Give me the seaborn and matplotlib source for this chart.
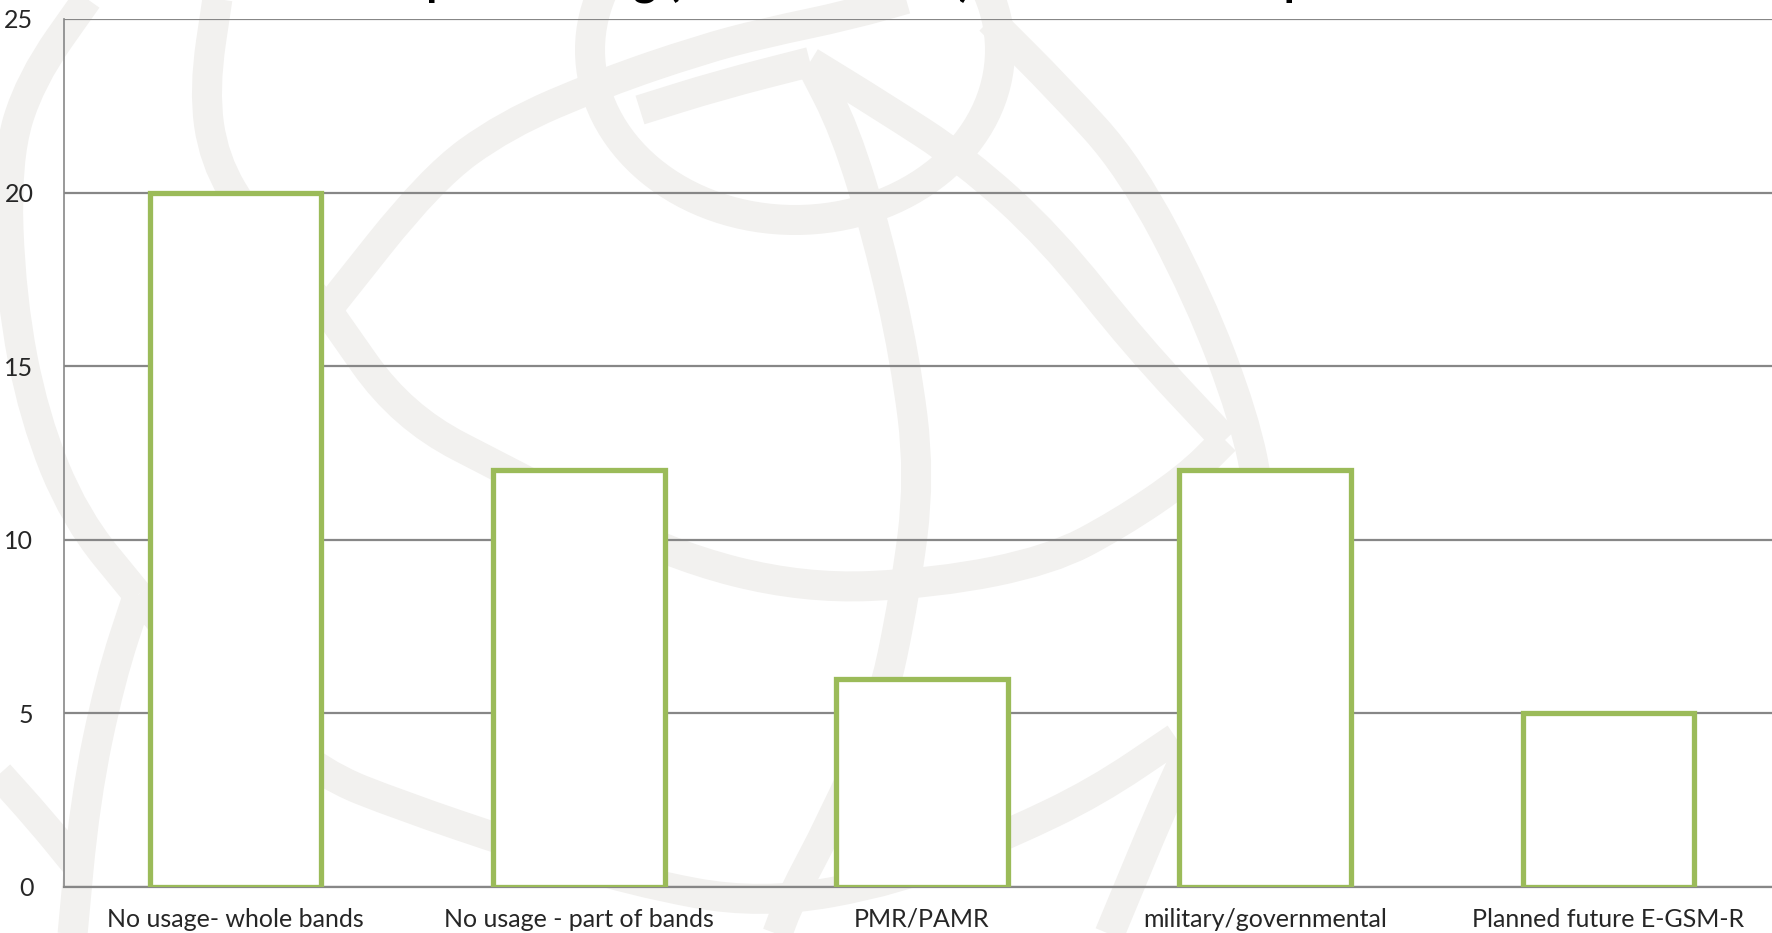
import matplotlib
matplotlib.use("Agg")
import matplotlib.pyplot as plt
import seaborn as sns
import pandas as pd
import numpy as np
from matplotlib.ticker import FixedLocator, NullFormatter
from matplotlib.path import Path
from matplotlib.patches import PathPatch, Ellipse

categories = ["No usage- whole bands", "No usage - part of bands", "PMR/PAMR",
              "military/governmental", "Planned future E-GSM-R"]
values = [20, 12, 6, 12, 5]
yticks = [0, 5, 10, 15, 20, 25]
title = "Band partitioning (ER-GSM band) in most of Europe"

sns.set_style("white")
plt.rcParams['font.family'] = ['Lato', 'DejaVu Sans']

W, H = 1772, 933
fig = plt.figure(figsize=(W / 100, H / 100), dpi=100)

# --- faint background watermark (decoration, pixel space) ---
bg = fig.add_axes([0, 0, 1, 1], zorder=-5)
bg.set_xlim(0, W)
bg.set_ylim(H, 0)
bg.axis("off")
wm_color = "#f2f1ef"
wm_lw = 30 * 72 / 100


def smooth_stroke(pts):
    pts = np.asarray(pts, float)
    verts = [pts[0], (pts[0] + pts[1]) / 2]
    codes = [Path.MOVETO, Path.LINETO]
    for i in range(1, len(pts) - 1):
        verts += [pts[i], (pts[i] + pts[i + 1]) / 2]
        codes += [Path.CURVE3, Path.CURVE3]
    verts.append(pts[-1])
    codes.append(Path.LINETO)
    bg.add_patch(PathPatch(Path(verts, codes), fill=False, edgecolor=wm_color,
                           linewidth=wm_lw, capstyle="butt", joinstyle="round"))


bg.add_patch(Ellipse((795, 50), 410, 340, fill=False, edgecolor=wm_color, linewidth=wm_lw))
strokes = [
    [(327, 310), (431, 179), (505, 125), (603, 83), (700, 50), (764, 33), (850, 15), (920, -5)],
    [(640, 110), (720, 85), (810, 62)],
    [(810, 62), (845, 130), (878, 238), (905, 357), (920, 476), (905, 595), (880, 714),
     (832, 821), (790, 900), (775, 940)],
    [(810, 62), (880, 105), (965, 160), (1051, 238), (1136, 345), (1225, 440)],
    [(1225, 440), (1187, 478), (1119, 524), (1051, 560), (937, 583), (804, 589), (666, 554),
     (517, 476), (402, 417), (327, 310)],
    [(990, 20), (1060, 90), (1130, 167), (1199, 298), (1244, 417), (1261, 500), (1255, 600),
     (1220, 690), (1176, 774), (1107, 940)],
    [(90, -5), (30, 80), (6, 160), (11, 298), (34, 417), (75, 518), (138, 595)],
    [(138, 595), (110, 680), (85, 800), (72, 940)],
    [(218, -5), (204, 89), (214, 160), (250, 220), (300, 280), (327, 310)],
    [(138, 595), (230, 700), (321, 774), (402, 806), (517, 845), (631, 881), (760, 905),
     (900, 880), (1011, 833), (1096, 792), (1176, 738)],
    [(-5, 770), (40, 820), (75, 863)],
]
for s in strokes:
    smooth_stroke(s)

# --- main chart ---
ax = fig.add_axes([64 / W, 1 - 887 / H, (1780 - 64) / W, (887 - 19) / H])
ax.patch.set_alpha(0)

df = pd.DataFrame({"cat": categories, "val": values})
sns.barplot(data=df, x="cat", y="val", ax=ax, width=0.5, color="white",
            edgecolor="#9BBB59", linewidth=3.8, zorder=3)

ax.set_xlim(-0.5, len(categories) - 0.5)
ax.set_ylim(0, 25)
ax.set_yticks(yticks)
ax.grid(axis="y", color="#878787", linewidth=1.6, zorder=0)
ax.set_axisbelow(True)

ax.xaxis.set_major_locator(FixedLocator(np.arange(-0.5, len(categories), 1.0)))
ax.xaxis.set_major_formatter(NullFormatter())
ax.xaxis.set_minor_locator(FixedLocator(np.arange(len(categories))))
ax.set_xticklabels(categories, minor=True)
ax.tick_params(axis="x", which="major", length=8, width=1.2, color="#878787", direction="out")
ax.tick_params(axis="x", which="minor", length=0, pad=15, labelsize=18)
ax.tick_params(axis="y", length=9, width=1.2, color="#878787", direction="out", pad=13, labelsize=18)
ax.set_xlabel("")
ax.set_ylabel("")

for s in ["top", "right"]:
    ax.spines[s].set_visible(False)
ax.spines["left"].set_color("#878787")
ax.spines["left"].set_linewidth(1.2)
ax.spines["bottom"].set_color("#878787")
ax.spines["bottom"].set_linewidth(1.6)

fig.text(823 / W, 1 + 3 / H, title, ha="center", va="baseline", fontsize=32,
         fontweight="bold", color="black")

fig.savefig("out.png", dpi=100)
